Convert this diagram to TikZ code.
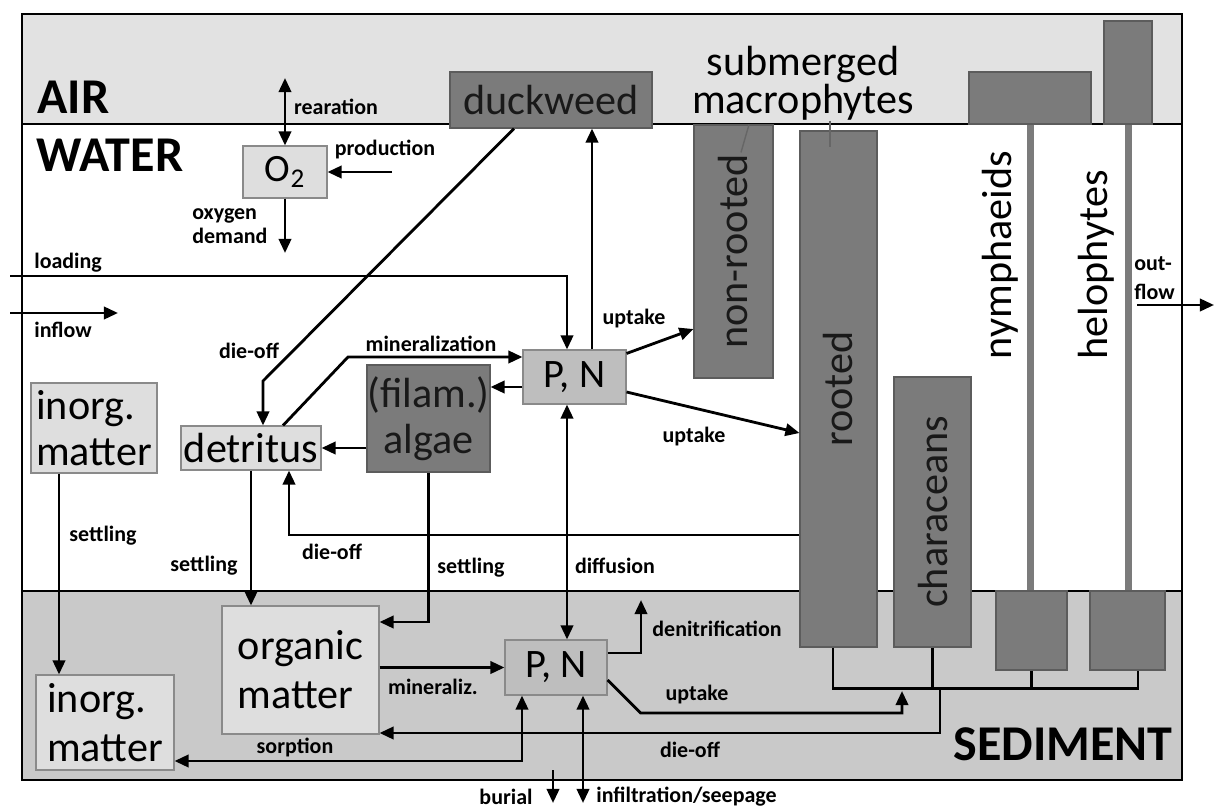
\documentclass[tikz,border=0pt]{standalone}
\usepackage{fontspec}
\setmainfont{Carlito}
\usetikzlibrary{positioning, arrows.meta, calc}

\definecolor{airgray}{HTML}{E2E2E2}
\definecolor{sedgray}{HTML}{C9C9C9}
\definecolor{plantgray}{HTML}{7B7B7B}
\definecolor{boxgray}{HTML}{DEDEDE}
\definecolor{nutgray}{HTML}{BEBEBE}
\definecolor{edgegray}{HTML}{8A8A8A}

\tikzset{
  sz/.style 2 args={minimum width=#1*0.2mm, minimum height=#2*0.2mm},
  litebox/.style={draw=edgegray, fill=boxgray, line width=0.6pt, inner sep=1pt, font=\fontsize{24}{28}\selectfont},
  nutbox/.style={litebox, fill=nutgray, font=\fontsize{23}{27}\selectfont},
  plantbox/.style={draw=plantgray!75!black, fill=plantgray, line width=0.6pt, inner sep=0pt, text=black!90, font=\fontsize{24}{28}\selectfont},
  bigtxt/.style={inner sep=0pt, font=\fontsize{24}{28}\selectfont},
  lbl/.style={inner sep=0pt, font=\bfseries\fontsize{12.5}{14}\selectfont},
  zone/.style={inner sep=0pt, font=\bfseries\fontsize{28.5}{30}\selectfont},
  flow/.style={line width=1.6pt, -{Triangle[length=8pt,width=7pt]}},
  twoway/.style={line width=1.6pt, {Triangle[length=8pt,width=7pt]}-{Triangle[length=8pt,width=7pt]}},
  rootline/.style={line width=1.6pt},
  stem/.style={draw=plantgray, line width=1.4mm},
  leader/.style={draw=black!60, line width=0.8pt}
}

\begin{document}
\begin{tikzpicture}[x=0.2mm, y=-0.2mm]
  \useasboundingbox (0,0) rectangle (1214,808);

  % layers
  \fill[airgray] (22,14) rectangle (1182,124);
  \fill[sedgray] (22,591) rectangle (1182,780);
  \draw[line width=1.4pt] (22,124) -- (1182,124);
  \draw[line width=1.4pt] (22,591) -- (1182,591);
  \draw[line width=1.4pt] (22,14) rectangle (1182,780);

  \node[zone, anchor=base west] (air) at (37,113) {AIR};
  \node[zone, anchor=base west] (water) at (36,172) {WATER};
  \node[zone, anchor=base east] (sediment) at (1173,760) {SEDIMENT};

  % boxes
  \node[litebox, sz={84}{52}, font=\fontsize{22}{26}\selectfont] (o2) at (285,172) {O\textsubscript{2}};
  \node[plantbox, sz={202}{56}] (duck) at (551,100) {duckweed};
  \node[nutbox, sz={103}{54}] (pnw) at (574.5,377) {P, N};
  \node[plantbox, sz={123}{107}, align=center, font=\fontsize{24}{26}\selectfont] (algae) at (428.5,418.5) {(filam.)\\algae};
  \node[litebox, sz={140}{44}] (detr) at (251,448) {detritus};
  \node[litebox, sz={126}{90}, align=left, font=\fontsize{24}{26}\selectfont] (inorgw) at (94,428) {inorg.\\matter};
  \node[litebox, sz={157}{128}, align=left] (org) at (300.5,670) {organic\\matter};
  \node[litebox, sz={138}{95}, align=left] (inorgs) at (105,722.5) {inorg.\\matter};
  \node[nutbox, sz={102}{55}] (pns) at (556,667.5) {P, N};

  % plants
  \node[plantbox, sz={79}{253}] (nonroot) at (733.5,251.5) {\rotatebox{90}{non-rooted}};
  \node[plantbox, sz={77}{516}] (rooted) at (838.5,389) {\rotatebox{90}{rooted}};
  \node[plantbox, sz={77}{270}] (chara) at (932.5,512) {\rotatebox{90}{characeans}};
  \node[plantbox, sz={122}{52}] (nymA) at (1030,98) {};
  \node[plantbox, sz={71}{79}] (nymS) at (1031.5,630.5) {};
  \node[plantbox, sz={48}{103}] (heloA) at (1128,72.5) {};
  \node[plantbox, sz={75}{79}] (heloS) at (1127.5,630.5) {};
  \draw[stem] (nymA.south) -- (nymA.south |- nymS.north);
  \draw[stem] (heloA.south) -- (heloA.south |- heloS.north);

  \node[bigtxt, rotate=90] (nymlbl) at (1000,255) {nymphaeids};
  \node[bigtxt, rotate=90] (helolbl) at (1096,265) {helophytes};
  \node[bigtxt, align=center, font=\fontsize{24}{20}\selectfont] (macro) at (803,83) {submerged\\macrophytes};
  \draw[leader] ($(macro.south)+(-54,4)$) -- ($(nonroot.north)+(7.5,28)$);
  \draw[leader] ($(macro.south)+(27,0)$) -- ($(rooted.north)+(-8.5,17)$);

  % free ends
  \coordinate (rearTop) at (285,78);
  \coordinate (prodSrc) at (392,172);
  \coordinate (odemEnd) at (285,253);
  \coordinate (loadSrc) at (10,276);
  \coordinate (inflA) at (10,313);
  \coordinate (inflB) at (118,313);
  \coordinate (outA) at (1137,305);
  \coordinate (outB) at (1214,305);
  \coordinate (denitEnd) at (641,600);
  \coordinate (upsEnd) at (902,691);
  \coordinate (rootJ) at (940,688);
  \coordinate (burA) at (553,770);
  \coordinate (burB) at (553,803);
  \coordinate (infEnd) at (583,803);

  % oxygen
  \draw[twoway] (rearTop) -- (o2.north);
  \draw[flow] (prodSrc) -- (o2.east);
  \draw[flow] (o2.south) -- (odemEnd);

  % water column
  \draw[flow] (loadSrc) -| ($(pnw.north)+(-7.5,0)$);
  \draw[flow] (inflA) -- (inflB);
  \draw[flow] ($(duck.south)+(-37,0)$) -- (263,381) -- ($(detr.north)+(12,0)$);
  \draw[flow] ($(detr.north)+(32,0)$) -- (348,357) -- ($(pnw.west)+(0,-20)$);
  \draw[flow] ($(pnw.west)+(0,10)$) -- ($(algae.east)+(0,-31.5)$);
  \draw[flow] (algae.west |- detr.east) -- (detr.east);
  \draw[flow] ($(pnw.north)+(17.5,0)$) coordinate (pnup) -- (pnup |- duck.south);
  \draw[flow] ($(pnw.north east)+(0,4)$) -- ($(nonroot.west)+(0,77.5)$);
  \draw[flow] ($(pnw.east)+(0,15)$) -- ($(rooted.west)+(0,44)$);
  \draw[flow] (outA) -- (outB);

  % to the sediment
  \draw[twoway] ($(pnw.south)+(-7.5,0)$) coordinate (dfA) -- (dfA |- pns.north);
  \draw[flow] ($(inorgw.south)+(-35,0)$) coordinate (stA) -- (stA |- inorgs.north);
  \draw[flow] (detr.south) -- (detr.south |- org.north);
  \draw[flow] ($(rooted.west)+(0,146)$) -| ($(detr.south)+(38,0)$);
  \draw[flow] (algae.south) |- ($(org.east)+(0,-48)$);

  % sediment
  \draw[flow] (org.east |- pns.west) -- (pns.west);
  \draw[twoway] ($(pns.south)+(-34,0)$) |- ($(inorgs.east)+(0,38.5)$);
  \draw[flow] ($(pns.east)+(0,-14.5)$) -| (denitEnd);
  \draw[flow] ($(pns.east)+(0,12.5)$) -- ++(33,33) -| (upsEnd);
  \draw[rootline] ($(rooted.south)+(-5.5,0)$) |- ($(heloS.south)+(10.5,18)$) -- ++(0,-18);
  \draw[rootline] (chara.south) -- (chara.south |- rootJ);
  \draw[rootline] (nymS.south) -- (nymS.south |- rootJ);
  \draw[flow] (rootJ) |- ($(org.east)+(0,63)$);
  \draw[flow] (burA) -- (burB);
  \draw[twoway] (infEnd |- pns.south) -- (infEnd);

  % labels
  \node[lbl] (rear) at (336,107) {rearation};
  \node[lbl] (prod) at (385,150) {production};
  \node[lbl, align=left, anchor=west] (odem) at (192,226) {oxygen\\demand};
  \node[lbl, anchor=west] (load) at (34,263) {loading};
  \node[lbl, anchor=west] (infl) at (34,330) {inflow};
  \node[lbl] (dieduck) at (249,351) {die-off};
  \node[lbl] (minw) at (431,344) {mineralization};
  \node[lbl] (setl1) at (103,536) {settling};
  \node[lbl] (setl2) at (204,566) {settling};
  \node[lbl] (dierooted) at (332,552) {die-off};
  \node[lbl] (setl3) at (471,568) {settling};
  \node[lbl] (diff) at (615,566) {diffusion};
  \node[lbl] (upnr) at (634,319) {uptake};
  \node[lbl] (upr) at (694,437) {uptake};
  \node[lbl] (mins) at (433,687) {mineraliz.};
  \node[lbl] (sorp) at (295,747) {sorption};
  \node[lbl] (denit) at (717,629) {denitrification};
  \node[lbl] (ups) at (697,695) {uptake};
  \node[lbl] (dies) at (690,750) {die-off};
  \node[lbl] (bur) at (506,797) {burial};
  \node[lbl, anchor=west] (infil) at (596,797) {infiltration/seepage};
  \node[lbl, align=left, anchor=west, font=\bfseries\fontsize{12.5}{16.5}\selectfont] (outfl) at (1134,278) {out-\\flow};
\end{tikzpicture}
\end{document}
